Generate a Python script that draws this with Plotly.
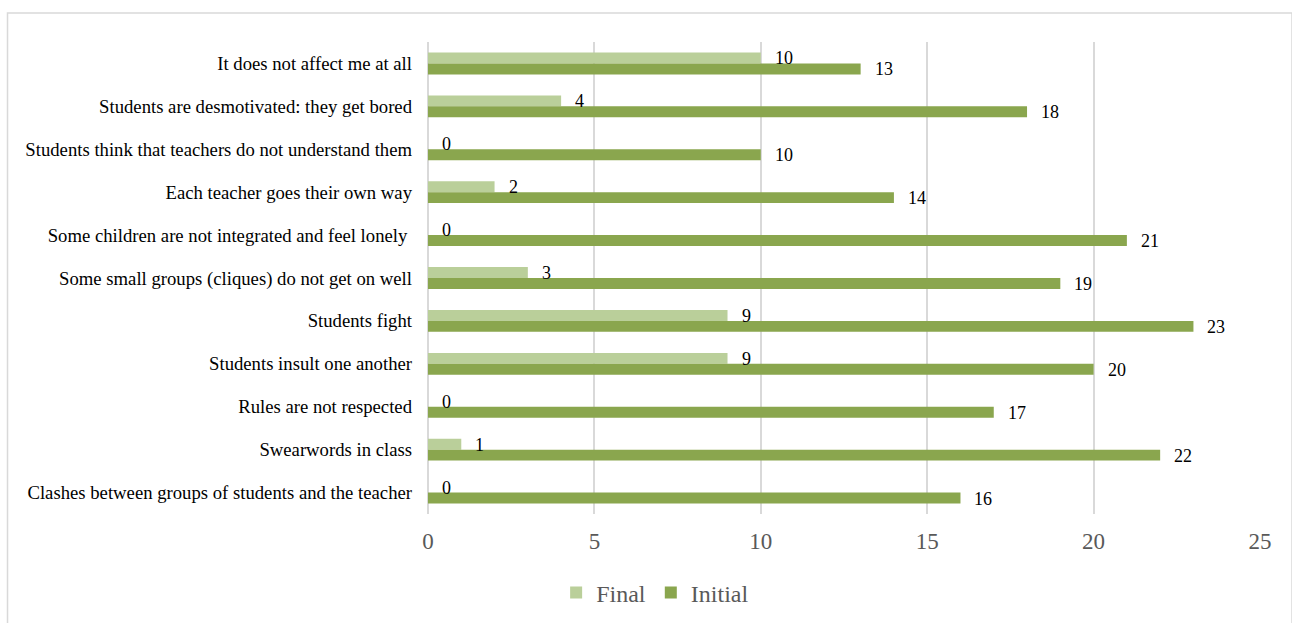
import plotly.graph_objects as go

categories = [
    "It does not affect me at all",
    "Students are desmotivated: they get bored",
    "Students think that teachers do not understand them",
    "Each teacher goes their own way",
    "Some children are not integrated and feel lonely\u00a0",
    "Some small groups (cliques) do not get on well",
    "Students fight",
    "Students insult one another",
    "Rules are not respected",
    "Swearwords in class",
    "Clashes between groups of students and the teacher",
]
final_vals = [10, 4, 0, 2, 0, 3, 9, 9, 0, 1, 0]
initial_vals = [13, 18, 10, 14, 21, 19, 23, 20, 17, 22, 16]
x_ticks = [0, 5, 10, 15, 20, 25]

FINAL_C = "#BACF9A"
INIT_C = "#8AA64E"
SERIF = "Liberation Serif"

fig = go.Figure()
fig.add_trace(go.Bar(name="Final", y=categories, x=final_vals, orientation="h",
                     marker=dict(color=FINAL_C, line=dict(width=0))))
fig.add_trace(go.Bar(name="Initial", y=categories, x=initial_vals, orientation="h",
                     marker=dict(color=INIT_C, line=dict(width=0))))

annotations = []
for c, v in zip(categories, final_vals):
    annotations.append(dict(x=v, y=c, xref="x", yref="y", text=str(v), showarrow=False,
                            xanchor="left", yanchor="middle", xshift=12, yshift=5,
                            font=dict(family=SERIF, size=18, color="#000000")))
for c, v in zip(categories, initial_vals):
    annotations.append(dict(x=v, y=c, xref="x", yref="y", text=str(v), showarrow=False,
                            xanchor="left", yanchor="middle", xshift=12, yshift=-6,
                            font=dict(family=SERIF, size=18, color="#000000")))

fig.update_layout(
    width=1292, height=623,
    margin=dict(l=428, r=32, t=42, b=109, autoexpand=False),
    paper_bgcolor="white", plot_bgcolor="white",
    barmode="group", bargap=0.49, bargroupgap=0,
    font=dict(family=SERIF),
    showlegend=True,
    legend=dict(orientation="h", x=0.273, xanchor="center", y=-0.167, yanchor="middle",
                font=dict(family=SERIF, size=24, color="#595959"),
                itemwidth=30, traceorder="normal"),
    annotations=annotations,
    shapes=[dict(type="rect", xref="paper", yref="paper",
                 x0=-0.5054, x1=1.0385, y0=-0.32, y1=1.0614,
                 line=dict(color="#D9D9D9", width=1.5), layer="below")],
)
fig.update_xaxes(range=[0, 25], tickvals=x_ticks, showgrid=True, gridcolor="#D9D9D9",
                 gridwidth=1.5, zeroline=True, zerolinecolor="#D9D9D9", zerolinewidth=1.5,
                 showline=False, ticks="", tickfont=dict(family=SERIF, size=23, color="#595959"),
                 ticklabelstandoff=11, automargin=False)
fig.update_yaxes(autorange="reversed", showgrid=False, showline=False, ticks="",
                 tickfont=dict(family=SERIF, size=18.7, color="#000000"),
                 ticklabelstandoff=15, automargin=False)

fig.write_html("out.html")
